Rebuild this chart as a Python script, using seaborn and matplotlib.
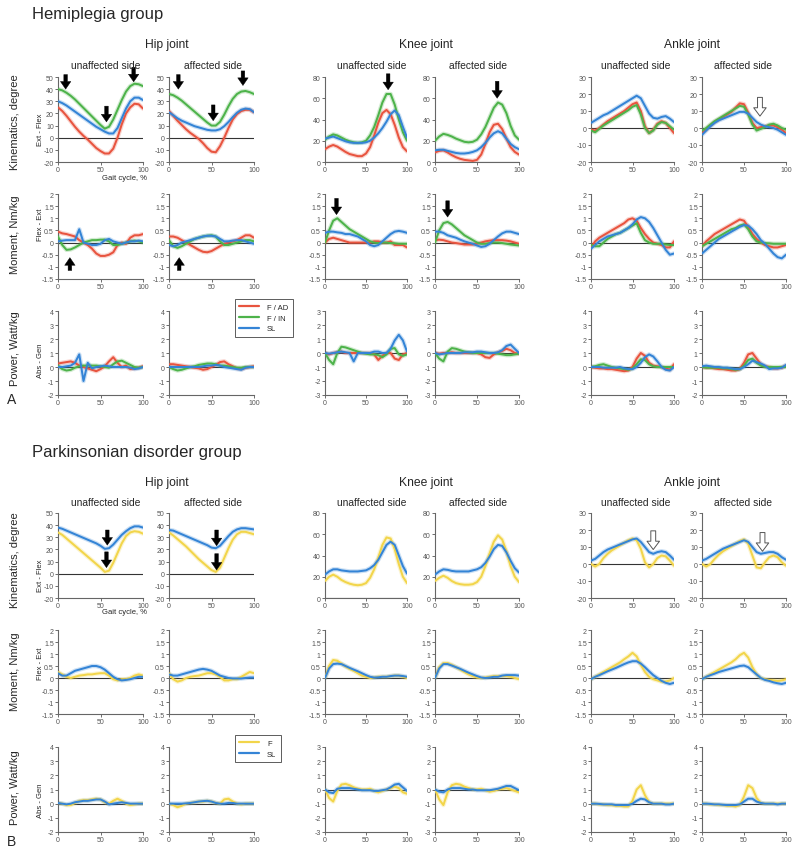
import matplotlib
matplotlib.use('Agg')
import numpy as np
import seaborn as sns
import matplotlib.pyplot as plt
from matplotlib.lines import Line2D

# Gait cycle sampled every 5 %.
gait = list(range(0, 101, 5))

# ---------------- Hemiplegia group (A) ----------------
# Kinematics, degree
a_kin_hip_un = {
    'F / AD': [25, 22, 18, 13.5, 9, 5, 1.5, -1.5, -5, -8.5, -11, -13, -13, -9, 0, 11, 20, 25, 28, 27.5, 24],
    'F / IN': [40, 39, 37, 34.5, 31.5, 28, 24.5, 21, 17.5, 14, 10.5, 7.5, 9, 15, 23, 31, 38, 42.5, 44.5, 44, 42.5],
    'SL': [30, 28.5, 26.5, 24, 21.5, 19, 16.5, 14, 11.5, 9, 7, 5, 3.5, 3.5, 8, 16, 24, 30, 33, 33, 31],
}
a_kin_hip_af = {
    'F / AD': [22, 18, 14, 10.5, 7, 4, 1.5, -1, -4.5, -8.5, -11.5, -12, -7, 0, 8, 15, 19.5, 22, 23, 23, 21],
    'F / IN': [36, 35, 33, 30.5, 27.5, 24.5, 21.5, 18.5, 15.5, 12.5, 10, 10, 13, 19, 26, 32, 36, 38, 38.5, 37.5, 36],
    'SL': [21, 18.5, 16, 14, 12.5, 11, 9.5, 8.5, 7.5, 6.5, 6, 6, 7, 9.5, 13, 17, 20.5, 23, 24, 23.5, 21],
}
a_kin_knee_un = {
    'F / AD': [12, 14.5, 16, 14.5, 12, 9.5, 7.5, 6.5, 5.5, 5.5, 8, 14, 25, 37, 46, 49, 45, 35, 23, 14, 10],
    'F / IN': [21, 24, 26, 25, 23, 21, 19.5, 18.5, 18, 18.5, 20, 25, 33, 44, 56, 64, 64, 54, 40, 28, 20],
    'SL': [22, 23, 24, 22.5, 21, 19.5, 18.5, 18, 18, 18, 18.5, 20, 23, 27, 32, 38, 45, 48.5, 44, 33, 23],
}
a_kin_knee_af = {
    'F / AD': [9, 10.5, 11, 9, 6.5, 4.5, 3, 2, 1.5, 1, 2, 7, 17, 28, 35, 36, 31, 22, 14, 9.5, 7],
    'F / IN': [20, 24, 26.5, 25.5, 24, 22, 20.5, 19, 18.5, 19, 21, 26, 33, 42, 51, 56, 54, 46, 34, 25, 21],
    'SL': [11, 11.5, 11.5, 10.5, 9.5, 8.5, 8, 8, 8.5, 9.5, 11, 14, 18, 23, 27, 29, 27, 22, 17, 14, 12],
}
a_kin_ank_un = {
    'F / AD': [-1, -1.5, 0, 2, 4, 5.5, 7, 8.5, 10, 12, 14, 15, 10, 1, -3, -1, 2.5, 4, 3, 0, -3],
    'F / IN': [-1.5, -2.5, -0.5, 1.5, 3, 4.5, 6, 7.5, 9, 10.5, 12.5, 13.5, 8, 0, -3, -1.5, 2, 3.5, 3, 1, -1],
    'SL': [3, 4.5, 6, 7.5, 8.5, 10, 11.5, 13, 14.5, 16, 17.5, 19, 17.5, 13, 8.5, 6, 5.5, 6.5, 7, 5.5, 3.5],
}
a_kin_ank_af = {
    'F / AD': [-3, -1, 1.5, 3.5, 5, 6.5, 8, 9.5, 12, 14.5, 14, 9, 3, 0, 0.5, 1, 1.5, 1.5, 0.5, -1, -3],
    'F / IN': [-1.5, 0, 2, 4, 5.5, 7, 8.5, 10, 11.5, 13, 12.5, 8, 2, -1.5, -0.5, 0.5, 2, 2.5, 1.5, 0, -1],
    'SL': [-4, -1.5, 1, 3, 4.5, 5.5, 6.5, 7.5, 8.5, 9.5, 9.5, 8.5, 6, 3.5, 2, 1, 0.5, 0, -1, -2.5, -4],
}
# Moment, Nm/kg
a_mom_hip_un = {
    'F / AD': [0.45, 0.38, 0.35, 0.3, 0.25, 0.1, 0.0, -0.1, -0.25, -0.45, -0.55, -0.55, -0.5, -0.4, -0.1, 0.0, -0.05, 0.2, 0.3, 0.3, 0.35],
    'F / IN': [0.25, -0.1, -0.3, -0.28, -0.2, -0.1, 0.0, 0.05, 0.1, 0.1, 0.12, 0.12, 0.05, -0.1, -0.1, -0.05, 0.0, 0.05, 0.08, 0.05, 0.0],
    'SL': [0.05, 0.08, 0.1, 0.1, 0.1, 0.55, 0.0, -0.05, -0.1, -0.1, -0.05, 0.1, 0.15, 0.05, 0.0, -0.05, 0.0, 0.05, 0.05, 0.08, 0.05],
}
a_mom_hip_af = {
    'F / AD': [0.25, 0.25, 0.2, 0.1, 0.0, -0.1, -0.2, -0.3, -0.38, -0.4, -0.35, -0.25, -0.15, -0.05, 0.0, 0.05, 0.1, 0.2, 0.3, 0.3, 0.2],
    'F / IN': [0.1, -0.15, -0.22, -0.15, -0.05, 0.05, 0.15, 0.2, 0.25, 0.28, 0.3, 0.25, 0.05, -0.1, -0.1, -0.05, 0.0, 0.05, 0.1, 0.1, 0.05],
    'SL': [-0.1, -0.15, -0.1, 0.0, 0.05, 0.1, 0.15, 0.2, 0.25, 0.28, 0.28, 0.25, 0.15, 0.05, 0.05, 0.08, 0.1, 0.1, 0.05, 0.0, -0.05],
}
a_mom_knee_un = {
    'F / AD': [0.0, 0.15, 0.2, 0.15, 0.1, 0.05, 0.0, 0.0, 0.0, 0.0, 0.0, 0.0, 0.05, 0.05, 0.0, 0.0, 0.05, -0.1, -0.1, -0.1, -0.2],
    'F / IN': [0.0, 0.5, 0.9, 1.0, 0.85, 0.7, 0.55, 0.45, 0.35, 0.25, 0.15, 0.05, 0.0, -0.02, 0.0, 0.0, -0.02, -0.03, -0.05, -0.05, -0.05],
    'SL': [0.4, 0.45, 0.45, 0.42, 0.4, 0.35, 0.35, 0.3, 0.25, 0.15, 0.05, -0.1, -0.15, -0.1, 0.05, 0.2, 0.35, 0.45, 0.48, 0.45, 0.4],
}
a_mom_knee_af = {
    'F / AD': [0.1, 0.12, 0.1, 0.05, 0.0, -0.02, -0.05, -0.08, -0.08, -0.08, -0.05, 0.0, 0.05, 0.08, 0.1, 0.1, 0.1, 0.08, 0.05, 0.0, -0.05],
    'F / IN': [0.0, 0.5, 0.8, 0.85, 0.75, 0.6, 0.45, 0.3, 0.2, 0.1, 0.0, -0.05, -0.05, -0.02, 0.0, 0.0, -0.02, -0.05, -0.08, -0.1, -0.12],
    'SL': [0.45, 0.45, 0.4, 0.3, 0.25, 0.2, 0.12, 0.05, 0.0, -0.05, -0.12, -0.18, -0.15, -0.05, 0.1, 0.25, 0.38, 0.45, 0.45, 0.4, 0.35],
}
a_mom_ank_un = {
    'F / AD': [-0.2, 0.05, 0.2, 0.3, 0.4, 0.5, 0.6, 0.7, 0.8, 0.95, 1.0, 0.9, 0.6, 0.35, 0.15, 0.0, -0.05, -0.1, -0.2, -0.2, 0.05],
    'F / IN': [-0.1, -0.15, -0.15, 0.0, 0.15, 0.25, 0.35, 0.4, 0.5, 0.6, 0.7, 0.8, 0.4, 0.1, 0.0, -0.05, -0.05, -0.05, -0.08, -0.1, -0.1],
    'SL': [-0.25, -0.1, 0.05, 0.15, 0.25, 0.3, 0.35, 0.4, 0.5, 0.6, 0.75, 0.95, 1.05, 1.0, 0.85, 0.6, 0.3, 0.0, -0.3, -0.5, -0.45],
}
a_mom_ank_af = {
    'F / AD': [-0.15, 0.05, 0.2, 0.35, 0.45, 0.55, 0.65, 0.75, 0.85, 0.95, 0.9, 0.65, 0.35, 0.15, 0.0, -0.1, -0.15, -0.2, -0.2, -0.15, -0.1],
    'F / IN': [-0.15, -0.05, 0.05, 0.15, 0.25, 0.35, 0.45, 0.55, 0.6, 0.7, 0.75, 0.55, 0.25, 0.05, 0.0, -0.02, -0.03, -0.05, -0.05, -0.05, -0.05],
    'SL': [-0.45, -0.3, -0.15, 0.0, 0.15, 0.25, 0.35, 0.45, 0.55, 0.65, 0.72, 0.7, 0.55, 0.35, 0.1, -0.05, -0.25, -0.45, -0.6, -0.65, -0.5],
}
# Power, Watt/kg
a_pow_hip_un = {
    'F / AD': [0.25, 0.3, 0.35, 0.4, 0.3, 0.1, 0.0, -0.1, -0.2, -0.3, -0.15, 0.05, 0.4, 0.7, 0.3, 0.0, 0.1, -0.15, -0.1, -0.05, 0.05],
    'F / IN': [0.1, -0.15, -0.25, -0.2, -0.05, 0.05, 0.1, 0.1, 0.1, 0.1, 0.05, 0.0, -0.05, 0.2, 0.4, 0.45, 0.3, 0.15, 0.0, -0.05, 0.0],
    'SL': [0.0, 0.0, 0.05, 0.1, 0.3, 0.9, -1.0, 0.3, -0.1, 0.0, 0.05, 0.1, 0.05, 0.0, 0.0, 0.0, 0.0, -0.05, -0.15, -0.1, 0.0],
}
a_pow_hip_af = {
    'F / AD': [0.2, 0.2, 0.15, 0.1, 0.05, 0.0, -0.05, -0.1, -0.2, -0.15, 0.0, 0.15, 0.35, 0.4, 0.2, 0.05, -0.1, -0.15, -0.05, 0.0, 0.05],
    'F / IN': [0.0, -0.15, -0.25, -0.2, -0.1, 0.0, 0.05, 0.15, 0.2, 0.25, 0.25, 0.2, 0.1, 0.1, 0.05, 0.0, -0.05, -0.05, 0.0, 0.0, 0.0],
    'SL': [0.0, 0.0, 0.0, 0.0, 0.0, 0.0, 0.0, 0.0, 0.05, 0.1, 0.1, 0.15, 0.1, 0.0, -0.05, -0.1, -0.15, -0.2, -0.05, 0.0, 0.0],
}
a_pow_knee_un = {
    'F / AD': [0.0, -0.1, 0.0, 0.05, 0.1, 0.0, 0.0, 0.0, 0.0, 0.0, 0.0, 0.0, -0.1, -0.5, -0.2, 0.0, 0.0, -0.4, -0.5, -0.1, 0.0],
    'F / IN': [0.0, -0.5, -0.8, 0.0, 0.45, 0.4, 0.3, 0.2, 0.1, 0.0, -0.05, -0.1, -0.1, -0.15, -0.3, -0.1, 0.3, 0.35, -0.1, -0.2, -0.1],
    'SL': [0.0, -0.05, 0.0, 0.05, 0.1, 0.05, 0.0, -0.6, 0.0, 0.0, 0.0, 0.0, 0.1, 0.1, 0.0, 0.0, 0.3, 0.9, 1.3, 0.9, 0.1],
}
a_pow_knee_af = {
    'F / AD': [0.0, -0.05, 0.0, 0.0, 0.05, 0.0, 0.0, 0.0, 0.0, 0.0, 0.0, -0.1, -0.3, -0.35, -0.1, 0.05, 0.15, 0.3, 0.2, 0.0, -0.05],
    'F / IN': [0.0, -0.4, -0.6, 0.1, 0.35, 0.3, 0.2, 0.1, 0.05, 0.0, 0.0, 0.0, 0.0, 0.0, 0.0, -0.05, -0.1, -0.15, -0.15, -0.1, -0.05],
    'SL': [0.0, -0.1, -0.05, 0.0, 0.0, 0.0, 0.0, 0.05, 0.05, 0.05, 0.1, 0.1, 0.05, 0.0, 0.0, 0.05, 0.2, 0.5, 0.6, 0.3, 0.0],
}
a_pow_ank_un = {
    'F / AD': [0.0, -0.05, -0.1, -0.1, -0.15, -0.15, -0.2, -0.25, -0.3, -0.25, 0.0, 0.6, 1.0, 0.8, 0.3, 0.1, 0.05, 0.0, -0.1, -0.2, 0.2],
    'F / IN': [0.0, 0.05, 0.15, 0.2, 0.1, 0.0, -0.05, -0.1, -0.15, -0.2, -0.1, 0.2, 0.55, 0.5, 0.2, 0.05, 0.0, 0.0, 0.0, 0.0, 0.0],
    'SL': [0.0, 0.0, 0.0, -0.05, -0.05, -0.05, -0.05, 0.0, -0.1, -0.15, -0.15, 0.0, 0.3, 0.7, 0.9, 0.75, 0.4, 0.0, -0.2, -0.25, 0.0],
}
a_pow_ank_af = {
    'F / AD': [0.0, -0.05, -0.05, -0.1, -0.15, -0.15, -0.2, -0.25, -0.25, -0.15, 0.3, 0.9, 1.0, 0.6, 0.2, 0.05, 0.0, -0.1, -0.1, -0.05, 0.1],
    'F / IN': [0.0, -0.05, -0.05, -0.05, -0.05, -0.1, -0.1, -0.15, -0.2, -0.15, 0.1, 0.5, 0.6, 0.3, 0.1, 0.0, 0.0, 0.0, 0.0, 0.0, 0.0],
    'SL': [0.05, 0.1, 0.05, 0.0, 0.0, -0.05, -0.05, -0.1, -0.15, -0.15, 0.0, 0.2, 0.45, 0.35, 0.25, 0.1, -0.15, -0.1, -0.1, -0.05, 0.15],
}

# ---------------- Parkinsonian disorder group (B) ----------------
b_kin_hip_un = {
    'F': [34, 32, 29, 26, 23, 20, 17, 14, 11, 8, 5, 1.5, 2.5, 9, 17, 25, 31, 34, 35, 34.5, 33],
    'SL': [38, 37, 35.5, 34, 32.5, 31, 29.5, 28, 26.5, 25, 23, 20.5, 21, 24, 28, 32, 35, 37.5, 39, 39, 38],
}
b_kin_hip_af = {
    'F': [34, 31.5, 28.5, 25.5, 22.5, 19, 15.5, 12, 9, 6, 3, 1.5, 5, 13, 21, 28, 32.5, 34.5, 34.5, 33.5, 32.5],
    'SL': [36, 35.5, 34, 32.5, 31, 29.5, 28, 26.5, 25, 23.5, 21.5, 21, 23, 27, 31, 34.5, 36.5, 37.5, 37.5, 37, 36.5],
}
b_kin_knee_un = {
    'F': [16, 20, 22, 20, 17, 15, 13.5, 12.5, 12, 12.5, 14, 19, 27, 38, 50, 57, 56, 46, 32, 20, 14],
    'SL': [22, 25, 27, 27, 26, 25.5, 25, 25, 25, 25.5, 26, 28, 31, 36, 43, 50, 53, 50, 40, 30, 23],
}
b_kin_knee_af = {
    'F': [16, 19, 21, 19, 16, 14, 13, 12.5, 12.5, 13, 15, 20, 30, 42, 53, 59, 55, 44, 30, 20, 15],
    'SL': [22, 25, 27, 26.5, 25.5, 25, 25, 25, 25, 26, 27, 29, 33, 39, 46, 50, 49, 43, 35, 28, 24],
}
b_kin_ank_un = {
    'F': [0, -1.5, 0, 3.5, 6, 8, 9.5, 11, 12.5, 14, 15, 14, 9, 1, -2, 0, 3.5, 5, 4.5, 2, -1],
    'SL': [2, 3, 5, 7, 8.5, 9.5, 10.5, 11.5, 12.5, 13.5, 14.5, 15, 13, 10, 7, 6, 7, 7.5, 7, 5, 2.5],
}
b_kin_ank_af = {
    'F': [0, -1.5, 0, 3, 5.5, 7.5, 9, 10.5, 12, 13.5, 14.5, 12, 5, -2, -2.5, 1, 4, 5, 4, 1, -1],
    'SL': [2, 3, 4.5, 6, 7.5, 9, 10, 11, 12, 13, 14, 13, 10, 7, 6, 6.5, 7, 7, 6, 4, 2.5],
}
b_mom_hip_un = {
    'F': [0.25, 0.15, 0.05, 0.0, 0.05, 0.1, 0.12, 0.15, 0.15, 0.18, 0.2, 0.2, 0.1, -0.05, -0.1, -0.05, -0.05, 0.0, 0.1, 0.15, 0.1],
    'SL': [0.2, 0.1, 0.1, 0.2, 0.3, 0.35, 0.4, 0.45, 0.5, 0.5, 0.45, 0.35, 0.2, 0.05, -0.05, -0.1, -0.08, -0.05, 0.0, 0.05, 0.05],
}
b_mom_hip_af = {
    'F': [0.2, -0.05, -0.15, -0.1, 0.0, 0.05, 0.08, 0.1, 0.15, 0.2, 0.2, 0.15, 0.05, -0.1, -0.1, -0.05, -0.05, 0.05, 0.15, 0.25, 0.2],
    'SL': [0.15, 0.1, 0.1, 0.15, 0.2, 0.25, 0.3, 0.35, 0.38, 0.35, 0.3, 0.2, 0.1, 0.05, 0.0, -0.02, -0.02, -0.02, 0.0, 0.02, 0.02],
}
b_mom_knee_un = {
    'F': [0.0, 0.5, 0.75, 0.72, 0.6, 0.48, 0.38, 0.3, 0.2, 0.1, 0.05, 0.0, 0.02, 0.05, 0.05, 0.05, 0.08, 0.1, 0.1, 0.05, 0.0],
    'SL': [0.0, 0.4, 0.58, 0.6, 0.58, 0.5, 0.42, 0.35, 0.28, 0.2, 0.12, 0.05, 0.02, 0.03, 0.05, 0.05, 0.08, 0.1, 0.1, 0.08, 0.05],
}
b_mom_knee_af = {
    'F': [0.0, 0.45, 0.62, 0.62, 0.55, 0.45, 0.35, 0.25, 0.15, 0.08, 0.02, 0.0, 0.02, 0.05, 0.08, 0.08, 0.08, 0.08, 0.05, 0.0, -0.05],
    'SL': [0.0, 0.4, 0.58, 0.58, 0.52, 0.45, 0.38, 0.3, 0.22, 0.15, 0.08, 0.02, 0.0, 0.02, 0.05, 0.05, 0.1, 0.12, 0.12, 0.12, 0.1],
}
b_mom_ank_un = {
    'F': [-0.05, 0.05, 0.15, 0.25, 0.35, 0.45, 0.55, 0.65, 0.78, 0.9, 1.05, 0.9, 0.55, 0.25, 0.05, -0.05, -0.1, -0.15, -0.15, -0.1, 0.0],
    'SL': [-0.05, 0.05, 0.12, 0.2, 0.28, 0.35, 0.42, 0.5, 0.58, 0.65, 0.7, 0.7, 0.6, 0.45, 0.28, 0.12, 0.0, -0.12, -0.2, -0.25, -0.2],
}
b_mom_ank_af = {
    'F': [-0.05, 0.05, 0.15, 0.25, 0.35, 0.45, 0.55, 0.65, 0.78, 0.95, 1.05, 0.85, 0.45, 0.15, 0.0, -0.05, -0.08, -0.1, -0.12, -0.1, -0.05],
    'SL': [-0.05, 0.05, 0.12, 0.18, 0.25, 0.3, 0.35, 0.4, 0.45, 0.5, 0.52, 0.45, 0.3, 0.15, 0.0, -0.08, -0.12, -0.18, -0.22, -0.25, -0.2],
}
b_pow_hip_un = {
    'F': [0.05, 0.0, -0.1, -0.1, 0.05, 0.2, 0.25, 0.25, 0.3, 0.35, 0.3, 0.1, 0.0, 0.2, 0.35, 0.2, 0.0, -0.1, -0.05, 0.0, 0.0],
    'SL': [0.05, 0.0, -0.05, 0.0, 0.1, 0.15, 0.2, 0.2, 0.25, 0.3, 0.3, 0.15, -0.05, 0.0, 0.05, 0.1, 0.05, 0.0, 0.0, 0.0, 0.0],
}
b_pow_hip_af = {
    'F': [0.0, -0.1, -0.25, -0.15, 0.0, 0.05, 0.1, 0.15, 0.15, 0.2, 0.15, 0.05, 0.0, 0.3, 0.35, 0.15, 0.0, -0.05, 0.0, 0.0, 0.0],
    'SL': [0.0, 0.0, 0.0, 0.0, 0.02, 0.05, 0.1, 0.15, 0.18, 0.2, 0.15, 0.05, 0.0, 0.0, 0.05, 0.05, 0.0, 0.0, 0.0, 0.0, 0.0],
}
b_pow_knee_un = {
    'F': [0.0, -0.6, -0.85, -0.1, 0.35, 0.4, 0.3, 0.15, 0.05, 0.0, 0.0, 0.05, -0.1, -0.2, -0.1, 0.0, 0.1, 0.2, 0.1, -0.2, -0.3],
    'SL': [0.0, -0.2, -0.25, 0.05, 0.1, 0.1, 0.1, 0.05, 0.0, -0.05, -0.05, -0.05, -0.1, -0.1, -0.05, 0.0, 0.15, 0.35, 0.4, 0.15, -0.1],
}
b_pow_knee_af = {
    'F': [0.0, -0.7, -1.1, -0.2, 0.3, 0.4, 0.35, 0.2, 0.1, 0.0, 0.0, 0.05, -0.05, -0.15, -0.1, 0.0, 0.05, 0.1, 0.0, -0.1, -0.2],
    'SL': [0.0, -0.15, -0.2, 0.0, 0.1, 0.1, 0.1, 0.05, 0.0, 0.0, -0.05, -0.05, -0.05, -0.05, 0.0, 0.05, 0.15, 0.25, 0.25, 0.1, -0.05],
}
b_pow_ank_un = {
    'F': [0.0, 0.0, -0.05, -0.05, -0.1, -0.1, -0.15, -0.15, -0.2, -0.2, 0.2, 1.0, 1.3, 0.6, 0.1, 0.0, 0.0, 0.0, 0.0, 0.0, 0.0],
    'SL': [0.0, 0.0, -0.02, -0.05, -0.05, -0.05, -0.1, -0.1, -0.1, -0.1, 0.0, 0.2, 0.35, 0.3, 0.1, 0.0, 0.0, 0.0, -0.05, -0.05, 0.0],
}
b_pow_ank_af = {
    'F': [0.0, 0.0, -0.05, -0.05, -0.1, -0.1, -0.15, -0.15, -0.2, -0.1, 0.5, 1.3, 1.1, 0.4, 0.05, 0.0, 0.0, 0.0, 0.0, 0.0, 0.0],
    'SL': [0.0, 0.0, -0.02, -0.05, -0.05, -0.08, -0.1, -0.1, -0.1, -0.05, 0.15, 0.35, 0.35, 0.15, 0.05, 0.0, 0.0, 0.0, -0.05, 0.0, 0.0],
}

# Arrow annotations: (panel, row, col, gait %, tail value, tip value, hollow)
arrows = [
    ('A', 0, 0, 9, 52, 40, False), ('A', 0, 0, 57, 26, 13, False), ('A', 0, 0, 89, 58, 46, False),
    ('A', 0, 1, 11, 52, 40, False), ('A', 0, 1, 52, 27, 14, False), ('A', 0, 1, 87, 55, 43, False),
    ('A', 0, 2, 77, 83, 68, False), ('A', 0, 3, 74, 76, 60, False), ('A', 0, 5, 69, 18, 7, True),
    ('A', 1, 0, 14, -1.15, -0.62, False), ('A', 1, 1, 12, -1.15, -0.62, False),
    ('A', 1, 2, 14, 1.82, 1.15, False), ('A', 1, 3, 15, 1.72, 1.05, False),
    ('B', 0, 0, 58, 36, 23.5, False), ('B', 0, 0, 57, 18, 5, False),
    ('B', 0, 1, 56, 36, 23, False), ('B', 0, 1, 56, 16.5, 3, False),
    ('B', 0, 4, 75, 19.5, 8.5, True), ('B', 0, 5, 72, 18.5, 7.5, True),
]

palette = {'F / AD': '#e8543f', 'F / IN': '#4db34a', 'SL': '#3484d6', 'F': '#f2d54a'}

panels = {
    'A': [[a_kin_hip_un, a_kin_hip_af, a_kin_knee_un, a_kin_knee_af, a_kin_ank_un, a_kin_ank_af],
          [a_mom_hip_un, a_mom_hip_af, a_mom_knee_un, a_mom_knee_af, a_mom_ank_un, a_mom_ank_af],
          [a_pow_hip_un, a_pow_hip_af, a_pow_knee_un, a_pow_knee_af, a_pow_ank_un, a_pow_ank_af]],
    'B': [[b_kin_hip_un, b_kin_hip_af, b_kin_knee_un, b_kin_knee_af, b_kin_ank_un, b_kin_ank_af],
          [b_mom_hip_un, b_mom_hip_af, b_mom_knee_un, b_mom_knee_af, b_mom_ank_un, b_mom_ank_af],
          [b_pow_hip_un, b_pow_hip_af, b_pow_knee_un, b_pow_knee_af, b_pow_ank_un, b_pow_ank_af]],
}

# y ranges per row and joint (hip, knee, ankle)
yranges = [
    [(-20, 50, 10), (0, 80, 20), (-20, 30, 10)],
    [(-1.5, 2, 0.5), (-1.5, 2, 0.5), (-1.5, 2, 0.5)],
    [(-2, 4, 1), (-3, 3, 1), (-2, 4, 1)],
]

# Layout in pixels
W, H = 800, 853
col_px = [(58, 143), (169, 254), (325, 407), (435, 519), (591, 674), (702, 786)]
row_px = {'A': [(78, 163), (195, 280), (312, 396)],
          'B': [(514, 599), (631, 715), (748, 833)]}

sns.set_style('ticks')
plt.rcParams['font.family'] = ['Liberation Sans', 'DejaVu Sans']
fig = plt.figure(figsize=(W / 100, H / 100), dpi=100)


def fmt(v):
    if abs(v - round(v)) < 1e-9:
        return str(int(round(v)))
    return ('%g' % v)


axes = {}
for pname, rows in panels.items():
    for r, row in enumerate(rows):
        for c, curves in enumerate(row):
            x0, x1 = col_px[c]
            y0, y1 = row_px[pname][r]
            ax = fig.add_axes([x0 / W, 1 - y1 / H, (x1 - x0) / W, (y1 - y0) / H])
            axes[(pname, r, c)] = ax
            ax.axhline(0, color='#333333', lw=0.8, zorder=1)
            for name, vals in curves.items():
                sns.lineplot(x=gait, y=vals, color=palette[name], lw=3.2, alpha=0.25,
                             ax=ax, legend=False, zorder=2)
                sns.lineplot(x=gait, y=vals, color=palette[name], lw=1.45,
                             ax=ax, legend=False, zorder=3)
            lo, hi, step = yranges[r][c // 2]
            ax.set_xlim(0, 100)
            ax.set_ylim(lo, hi)
            ticks = np.arange(lo, hi + step / 2, step)
            ax.set_yticks(ticks)
            ax.set_yticklabels([fmt(t) for t in ticks])
            ax.set_xticks([0, 50, 100])
            ax.set_xticklabels(['0', '50', '100'])
            ax.tick_params(labelsize=5, colors='#555555', length=2, width=0.6, pad=1)
            for s in ['top', 'right']:
                ax.spines[s].set_visible(False)
            for s in ['left', 'bottom']:
                ax.spines[s].set_color('#666666')
                ax.spines[s].set_linewidth(0.8)
            ax.set_xlabel('')
            ax.set_ylabel('')

for pname, r, c, gx, tail, tip, hollow in arrows:
    ax = axes[(pname, r, c)]
    if hollow:
        props = dict(width=3.5, headwidth=9, headlength=6, shrink=0,
                     facecolor='white', edgecolor='#555555', lw=0.7)
    else:
        props = dict(width=2.6, headwidth=7.5, headlength=5.5, shrink=0,
                     facecolor='black', edgecolor='black', lw=0.3)
    ax.annotate('', xy=(gx, tip), xytext=(gx, tail), arrowprops=props,
                annotation_clip=False, zorder=5)


# Titles and labels
def ftext(x, y, s, **kw):
    fig.text(x / W, 1 - y / H, s, **kw)


ftext(32, 14, 'Hemiplegia group', fontsize=12, ha='left', va='center')
ftext(32, 453, 'Parkinsonian disorder group', fontsize=12, ha='left', va='center')
for ytop, ysub in [(45, 66), (483, 503)]:
    ftext(167, ytop, 'Hip joint', fontsize=8.7, ha='center', va='center')
    ftext(426, ytop, 'Knee joint', fontsize=8.7, ha='center', va='center')
    ftext(692, ytop, 'Ankle joint', fontsize=8.7, ha='center', va='center')
    for xc, lab in zip([106, 213, 372, 478, 636, 743],
                       ['unaffected side', 'affected side'] * 3):
        ftext(xc, ysub, lab, fontsize=7.4, ha='center', va='center')

for yk, ye, ym, yf, yp, ya in [(122, 130, 235, 225, 349, 361), (560, 576, 672, 664, 788, 801)]:
    ftext(15, yk, 'Kinematics, degree', fontsize=8, rotation=90, ha='center', va='center')
    ftext(40, ye, 'Ext - Flex', fontsize=5.5, rotation=90, ha='center', va='center')
    ftext(15, ym, 'Moment, Nm/kg', fontsize=8, rotation=90, ha='center', va='center')
    ftext(40, yf, 'Flex - Ext', fontsize=5.5, rotation=90, ha='center', va='center')
    ftext(15, yp, 'Power, Watt/kg', fontsize=8, rotation=90, ha='center', va='center')
    ftext(40, ya, 'Abs - Gen', fontsize=5.5, rotation=90, ha='center', va='center')

ftext(125, 179, 'Gait cycle, %', fontsize=5.5, ha='center', va='center')
ftext(125, 613, 'Gait cycle, %', fontsize=5.5, ha='center', va='center')
ftext(12, 400, 'A', fontsize=10, ha='center', va='center')
ftext(12, 842, 'B', fontsize=10, ha='center', va='center')

# Legends
for names, (lx, ly) in [(['F / AD', 'F / IN', 'SL'], (231, 296)), (['F', 'SL'], (231, 732))]:
    handles = [Line2D([], [], color=palette[n], lw=1.6) for n in names]
    leg = fig.legend(handles, names, loc='upper left',
                     bbox_to_anchor=(lx / W, 1 - ly / H), fontsize=5.5,
                     frameon=True, fancybox=False, edgecolor='#333333',
                     handlelength=2.6, borderpad=0.6, labelspacing=0.45,
                     handletextpad=1.0)
    leg.get_frame().set_linewidth(0.7)

fig.savefig('out.png', dpi=100, facecolor='white')
